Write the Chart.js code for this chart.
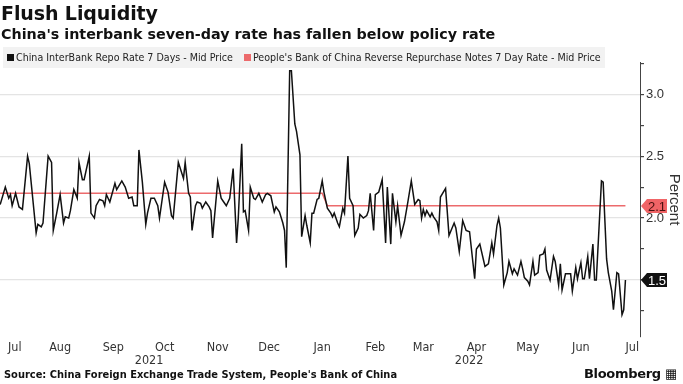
<!DOCTYPE html>
<html>
<head>
<meta charset="utf-8">
<script src="https://cdn.jsdelivr.net/npm/chart.js@4.4.0/dist/chart.umd.min.js"></script>
<style>
  body { margin:0; width:683px; height:384px; overflow:hidden; background:#fff; position:relative; font-family:"DejaVu Sans", sans-serif; color:#111; }
  #wrap { position:absolute; left:0; top:0; width:683px; height:384px; }
  #title { position:absolute; left:1px; top:2px; font-weight:bold; font-size:19px; letter-spacing:-0.1px; }
  #sub { position:absolute; left:1px; top:26px; font-weight:bold; font-size:14.3px; }
  #legend { position:absolute; left:3px; top:47px; width:602px; height:21px; background:#f2f2f2; font-family:"Liberation Sans Narrow","DejaVu Sans Condensed",sans-serif; font-size:10.6px; color:#222; line-height:21px; white-space:nowrap; }
  #legend span.sq { display:inline-block; width:7px; height:7px; margin:0 2px 0 4px; vertical-align:0px; }
  #source { position:absolute; left:4px; top:369px; font-weight:bold; font-size:9.9px; }
  #logo { position:absolute; right:6px; top:366px; font-weight:bold; font-size:13px; letter-spacing:-0.3px; }
</style>
</head>
<body>
<div id="wrap"><canvas id="chart"></canvas></div>
<div id="title">Flush Liquidity</div>
<div id="sub">China's interbank seven-day rate has fallen below policy rate</div>
<div id="legend"><span class="sq" style="background:#111"></span>China InterBank Repo Rate 7 Days - Mid Price <span class="sq" style="background:#ec6a6c;margin-left:8px"></span>People's Bank of China Reverse Repurchase Notes 7 Day Rate - Mid Price</div>
<div id="source">Source: China Foreign Exchange Trade System, People's Bank of China</div>
<div id="logo">Bloomberg &#9638;</div>
<script>
// x values are days since 1 Jul 2021
const repoDays = [10,13,15,16,17,19,21,23,26,27,31,32,34,35,38,40,41,43,45,47,48,50,51,53,55,56,58,59,62,63,65,66,68,70,71,72,74,77,78,81,83,85,
  87,88,90,91,93,95,96,98,100,102,103,106,108,110,111,114,117,118,120,121,122,124,125,127,128,130,132,133,134,137,139,140,142,144,146,148,149,151,152,153,155,156,158,
  159,161,163,165,166,168,170,171,173,175,176,177,179,180,182,183,185,186,188,189,191,192,193,195,196,198,199,201,203,204,205,207,208,210,211,213,214,216,217,219,220,222,224,225,226,228,
  229,231,233,235,236,238,239,241,242,244,246,248,250,252,254,255,256,257,258,259,261,262,263,265,266,267,270,272,275,276,278,280,282,284,287,288,290,293,295,297,298,300,301,302,
  304,306,307,309,310,312,314,315,316,318,319,321,322,324,325,327,328,329,331,333,334,336,337,338,340,343,344,346,347,349,350,351,353,354,356,357,358,361,362,364,365,367,368,370,371,373,374,375];
const repoRate = [2.11,2.25,2.16,2.19,2.10,2.20,2.09,2.07,2.50,2.44,1.88,1.95,1.93,1.96,2.50,2.45,1.90,2.04,2.19,1.96,2.01,2.00,2.06,2.23,2.16,2.45,2.31,2.31,2.50,2.04,2.00,2.10,2.15,2.14,2.10,2.19,2.13,2.28,2.23,2.30,2.25,2.16,
  2.17,2.10,2.10,2.55,2.29,1.95,2.04,2.16,2.16,2.10,2.00,2.29,2.21,2.02,2.00,2.45,2.32,2.45,2.20,2.17,1.90,2.10,2.13,2.12,2.08,2.13,2.09,2.06,1.84,2.30,2.16,2.14,2.10,2.16,2.40,1.80,2.00,2.60,2.05,2.06,1.90,2.25,2.16,
  2.15,2.20,2.13,2.19,2.20,2.18,2.05,2.09,2.05,1.96,1.90,1.60,3.19,3.19,2.76,2.70,2.51,1.85,2.02,1.94,1.80,2.04,2.04,2.15,2.16,2.30,2.21,2.08,2.04,2.01,2.04,1.96,1.93,2.08,2.04,2.50,2.16,2.10,1.86,1.92,2.03,2.00,2.02,2.06,2.20,1.90,
  2.19,2.21,2.31,1.80,2.25,1.79,2.20,1.97,2.10,1.86,1.97,2.13,2.30,2.11,2.15,2.14,2.00,2.07,2.02,2.06,2.01,2.04,2.01,1.97,1.90,2.17,2.24,1.86,1.96,1.92,1.73,1.98,1.90,1.89,1.51,1.75,1.79,1.61,1.63,1.80,1.71,1.94,2.00,1.92,
  1.46,1.56,1.65,1.55,1.59,1.54,1.65,1.59,1.52,1.49,1.46,1.65,1.54,1.56,1.70,1.71,1.75,1.58,1.50,1.69,1.65,1.46,1.63,1.42,1.55,1.55,1.41,1.60,1.51,1.64,1.51,1.51,1.69,1.51,1.79,1.50,1.50,2.30,2.29,1.67,1.56,1.41,1.26,1.56,1.55,1.22,1.26,1.50];

const policyDays = [10, 198, 201, 375];
const policyRate = [2.2, 2.2, 2.1, 2.1];

// mid-month label positions
const monthDays = [14,45,76,106,137,167,198,229,257,288,318,349,379];
const monthLabels = ['Jul','Aug','Sep','Oct','Nov','Dec','Jan','Feb','Mar','Apr','May','Jun','Jul'];
const yearLabels = ['2021','2022'];
const yearBreak = 184;

const yTicks = [1.25,1.5,1.75,2.0,2.25,2.5,2.75,3.0,3.25];

const axisText = {
  id: 'axisText',
  afterDraw(chart) {
    const {ctx, scales: {x}} = chart;
    ctx.save();
    ctx.fillStyle = '#333';
    ctx.font = '12.5px "Liberation Sans Narrow", "DejaVu Sans Condensed", sans-serif';
    ctx.textAlign = 'center';
    ctx.textBaseline = 'middle';
    monthDays.forEach((d, i) => {
      let px = x.getPixelForValue(d);
      let w = ctx.measureText(monthLabels[i]).width;
      px = Math.max(px, w / 2 + 8);
      ctx.fillText(monthLabels[i], px, 348);
    });
    const mids = [(x.min + yearBreak) / 2, (yearBreak + x.max) / 2];
    mids.forEach((m, i) => ctx.fillText(yearLabels[i], x.getPixelForValue(m), 361));
    ctx.restore();
  }
};

const lastTags = {
  id: 'lastTags',
  afterDraw(chart) {
    const {ctx, scales: {y}, chartArea} = chart;
    const fills = ['#111111', '#f06466'];
    const texts = ['#ffffff', '#4a1010'];
    ctx.save();
    ctx.font = '13px "Liberation Sans", sans-serif';
    ctx.textBaseline = 'middle';
    ctx.textAlign = 'left';
    chart.data.datasets.forEach((ds, i) => {
      const v = ds.data[ds.data.length - 1].y;
      const py = Math.round(y.getPixelForValue(v));
      const x0 = chartArea.right + 1;
      ctx.beginPath();
      ctx.moveTo(x0, py);
      ctx.lineTo(x0 + 6, py - 7);
      ctx.lineTo(x0 + 26, py - 7);
      ctx.lineTo(x0 + 26, py + 7);
      ctx.lineTo(x0 + 6, py + 7);
      ctx.closePath();
      ctx.fillStyle = fills[i];
      ctx.fill();
      ctx.fillStyle = texts[i];
      ctx.fillText(v.toFixed(1), x0 + 7, py + 1);
    });
    ctx.restore();
  }
};

new Chart(document.getElementById('chart'), {
  type: 'line',
  data: {
    datasets: [{
      label: 'China InterBank Repo Rate 7 Days - Mid Price',
      data: repoDays.map((d, i) => ({x: d, y: repoRate[i]})),
      borderColor: '#111',
      borderWidth: 1.5,
      pointRadius: 0,
      tension: 0
    }, {
      label: "People's Bank of China Reverse Repurchase Notes 7 Day Rate - Mid Price",
      data: policyDays.map((d, i) => ({x: d, y: policyRate[i]})),
      borderColor: '#ec6a6c',
      borderWidth: 1.5,
      pointRadius: 0,
      tension: 0
    }]
  },
  options: {
    responsive: true,
    maintainAspectRatio: false,
    animation: false,
    layout: { padding: { top: 62, left: 0, right: 0, bottom: 0 } },
    plugins: { legend: { display: false }, tooltip: { enabled: false } },
    scales: {
      x: {
        type: 'linear',
        min: 9.9,
        max: 383.5,
        grid: { display: false },
        border: { display: false },
        ticks: { display: false },
        afterFit: (s) => { s.height = 47; }
      },
      y: {
        position: 'right',
        min: 1.04,
        max: 3.26,
        afterBuildTicks: (s) => { s.ticks = yTicks.map(v => ({value: v})); },
        afterFit: (s) => { s.width = 43; },
        grid: {
          color: (c) => (c.tick && Math.abs(c.tick.value * 2 - Math.round(c.tick.value * 2)) < 1e-6) ? '#e4e4e4' : 'rgba(0,0,0,0)',
          tickColor: '#444',
          tickLength: 4,
          lineWidth: 1.2
        },
        border: { display: true, color: '#444', width: 1 },
        ticks: {
          color: '#333',
          padding: 2,
          font: { family: '"Liberation Sans", sans-serif', size: 13 },
          autoSkip: false,
          callback: (v) => (Math.abs(v * 2 - Math.round(v * 2)) < 1e-6) ? v.toFixed(1) : ''
        },
        title: {
          display: true,
          text: 'Percent',
          color: '#333',
          font: { family: '"Liberation Sans", sans-serif', size: 15 },
          padding: 0
        }
      }
    }
  },
  plugins: [axisText, lastTags]
});
</script>
</body>
</html>
